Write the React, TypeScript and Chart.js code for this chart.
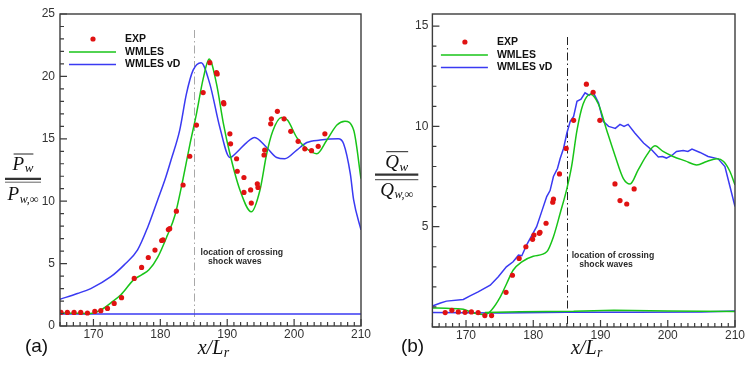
import React, { useEffect, useRef } from 'react';
import { Chart, registerables } from 'chart.js';

Chart.register(...registerables);

// ---------- data ----------
const X_MIN = 165;
const X_MAX = 210;
const xTickValues = [170, 180, 190, 200, 210];
const leftYTicks = [0, 5, 10, 15, 20, 25];
const rightYTicks = [5, 10, 15];
const legendLabels = ['EXP', 'WMLES', 'WMLES vD'];
const annotationLines = ['location of crossing', 'shock waves'];
const shockX = 185;

type P = [number, number];

const leftExp: P[] = [
  [165.15, 1.09], [166.1, 1.09], [167.1, 1.09], [168.1, 1.09], [169.1, 1.04], [170.2, 1.17],
  [171.1, 1.23], [172.1, 1.41], [173.1, 1.81], [174.2, 2.27], [176.1, 3.81], [177.2, 4.69],
  [178.2, 5.49], [179.2, 6.08], [180.2, 6.85], [180.4, 6.9], [181.2, 7.73], [181.4, 7.8],
  [182.4, 9.2], [183.4, 11.3], [184.4, 13.6], [185.4, 16.1], [186.4, 18.7], [187.4, 21.1],
  [188.4, 20.3], [188.5, 20.2], [189.45, 17.9], [189.5, 17.8], [190.4, 15.4], [190.5, 14.6],
  [191.4, 13.4], [191.5, 12.4], [192.5, 11.9], [192.5, 10.7], [193.5, 10.9], [193.6, 9.85],
  [194.5, 11.4], [194.6, 11.1], [195.5, 13.7], [195.6, 14.1], [196.5, 16.2], [196.6, 16.6],
  [197.5, 17.2], [198.5, 16.6], [199.5, 15.6], [200.6, 14.8], [201.6, 14.2], [202.6, 14.05],
  [203.6, 14.4], [204.6, 15.4],
];

const leftWmles: P[] = [
  [165, 1.05], [167, 1.03], [169.5, 1.0], [171, 1.25], [172.6, 1.85], [174.1, 2.5], [176, 3.7],
  [177.2, 4.1], [178.3, 4.5], [179.6, 5.5], [181, 7.2], [182.2, 8.9], [183.4, 11.8], [184.4, 14.5],
  [185.4, 17.0], [186.4, 19.8], [187.3, 21.4], [188.4, 19.4], [189.4, 16.3], [190.4, 13.8],
  [191.9, 10.9], [193.6, 9.15], [194.9, 10.9], [195.9, 13.8], [196.8, 15.6], [198.1, 16.7],
  [199.0, 16.5], [200.4, 15.1], [201.9, 14.2], [203.4, 13.8], [204.9, 14.9], [206.4, 16.1],
  [207.6, 16.4], [208.9, 15.7], [210, 11.8],
];

const leftVd: P[] = [
  [165, 2.14], [167.6, 2.6], [169.6, 3.0], [172.6, 3.95], [174.6, 4.9], [176.6, 6.1], [178.1, 7.9],
  [179.6, 10.1], [180.8, 11.9], [181.6, 13.3], [182.9, 15.7], [183.9, 18.6], [184.9, 20.5],
  [186.1, 21.1], [187.4, 19.4], [188.9, 15.9], [190.4, 13.5], [191.4, 13.9], [192.9, 14.7],
  [194.1, 15.1], [195.9, 14.3], [197.4, 13.5], [198.6, 13.4], [200.4, 14.1], [201.9, 14.7],
  [203.9, 14.9], [206.6, 15.0], [207.4, 14.6], [208.4, 12.2], [208.9, 10.1], [210, 7.7],
];

const leftVdBase: P[] = [[165, 0.96], [210, 0.96]];

const rightExp: P[] = [
  [166.9, 0.72], [167.9, 0.83], [168.85, 0.75], [169.85, 0.73], [170.8, 0.75], [171.8, 0.72],
  [172.8, 0.57], [173.8, 0.57], [175.95, 1.73], [176.9, 2.58], [177.9, 3.42], [178.9, 4.0],
  [179.9, 4.37], [180.1, 4.58], [180.9, 4.67], [181.0, 4.72], [181.9, 5.17], [182.9, 6.22],
  [183.0, 6.37], [183.9, 7.63], [184.9, 8.9], [186.0, 10.3], [187.9, 12.1], [188.9, 11.7],
  [189.9, 10.3], [192.15, 7.13], [192.9, 6.3], [193.9, 6.13], [195.0, 6.88],
];

const rightWmles: P[] = [
  [165, 0.95], [167, 0.93], [169.6, 0.88], [171.1, 0.7], [172.8, 0.62], [173.8, 0.85], [175.1, 1.5],
  [176.05, 2.17], [177.0, 2.83], [178.3, 3.25], [180.0, 3.53], [182.0, 3.75], [183.0, 4.5],
  [184.0, 5.67], [185.0, 6.9], [185.7, 8.0], [186.5, 9.8], [187.4, 11.1], [188.5, 11.6],
  [189.7, 11.1], [190.9, 9.83], [192.2, 8.5], [193.4, 7.4], [194.4, 7.13], [195.6, 7.83],
  [196.9, 8.58], [198.1, 9.03], [199.3, 8.75], [200.8, 8.5], [202.6, 8.28], [204.3, 8.08],
  [205.8, 8.25], [207.3, 8.38], [208.3, 8.25], [209.25, 7.75], [210, 7.08],
];

const rightVd: P[] = [
  [165, 1.05], [166.2, 1.2], [167.1, 1.29], [169.6, 1.37], [170.6, 1.55], [171.8, 1.75],
  [173.6, 2.08], [174.8, 2.5], [176.0, 3.0], [177.0, 3.25], [177.8, 3.58], [178.3, 3.55],
  [179.0, 4.08], [180.5, 5.0], [181.2, 5.7], [182.0, 6.5], [182.5, 6.8], [183.0, 7.5],
  [183.6, 7.9], [184.0, 8.4], [184.5, 8.9], [185.0, 9.67], [185.5, 10.25], [186.0, 10.5],
  [186.5, 11.25], [187.1, 11.35], [187.7, 11.67], [188.3, 11.55], [188.9, 11.7], [189.7, 11.17],
  [190.4, 10.25], [191.2, 10.0], [191.7, 9.95], [192.2, 9.9], [192.9, 10.1], [193.5, 10.0],
  [194.1, 10.1], [195.1, 9.67], [196.4, 9.17], [197.6, 8.83], [198.6, 8.47], [199.2, 8.5],
  [199.8, 8.42], [200.6, 8.55], [201.3, 8.75], [202.3, 8.8], [203.0, 8.75], [203.6, 8.87],
  [204.8, 8.7], [206.0, 8.5], [207.5, 8.38], [208.5, 8.0], [209.25, 7.0], [210, 6.0],
];

const rightVdBase: P[] = [[165, 0.72], [175, 0.7], [185, 0.73], [195, 0.74], [205, 0.75], [210, 0.8]];
const rightWmlesBase: P[] = [[172.8, 0.72], [178, 0.76], [186, 0.78], [192, 0.84], [200, 0.8], [210, 0.77]];

// ---------- styles ----------
const RED = '#e01212';
const GREEN = '#18c418';
const BLUE = '#3a3af2';
const TICK_FONT = 'Arial, "Liberation Sans", sans-serif';
const SERIF = '"Liberation Serif", "DejaVu Serif", serif';

const toXY = (arr: P[]) => arr.map(([x, y]) => ({ x, y }));

function drawMath(ctx: CanvasRenderingContext2D, main: string, sub: string, cx: number, base: number, mainSize: number, subSize: number) {
  const mf = `italic ${mainSize}px ${SERIF}`;
  const sf = `italic ${subSize}px ${SERIF}`;
  ctx.font = mf;
  const mw = ctx.measureText(main).width;
  ctx.font = sf;
  const sw = ctx.measureText(sub).width;
  const total = mw + 0.5 + sw;
  const x0 = cx - total / 2;
  ctx.textAlign = 'left';
  ctx.textBaseline = 'alphabetic';
  ctx.font = mf;
  ctx.fillText(main, x0, base);
  ctx.font = sf;
  ctx.fillText(sub, x0 + mw + 0.5, base + subSize * 0.22);
  return [x0, x0 + total];
}

type PanelCfg = {
  id: string;
  canvasLeft: number;
  width: number;
  yMax: number;
  yTicks: number[];
  yAxisWidth: number;
  xAxisHeight: number;
  padRight: number;
  yLabelPad: number;
  exp: P[];
  wmles: P[];
  vd: P[];
  vdBase: P[];
  wmlesBase: P[] | null;
  vdTension: boolean;
  shockColor: string;
  shockTop: number;
  legendRow0: number;
  legendDx: number;
  annotDx: number;
  annotDy: number;
  panelLabel: string;
  panelLabelX: number;
  frac: {
    letter: string; cx: number; overY: number; numBase: number;
    bar1Y: number; bar1W: number; bar2Y: number; bar2W: number; barX0: number; barX1: number; denBase: number;
  };
};

const panels: PanelCfg[] = [
  {
    id: 'a', canvasLeft: 0, width: 373, yMax: 25, yTicks: leftYTicks, yAxisWidth: 60, xAxisHeight: 41,
    padRight: 12, yLabelPad: 5, exp: leftExp, wmles: leftWmles, vd: leftVd, vdBase: leftVdBase, wmlesBase: null,
    vdTension: true, shockColor: '#a8a8a8', shockTop: 16, legendRow0: 25, legendDx: 0, annotDx: 6.7, annotDy: 239,
    panelLabel: '(a)', panelLabelX: 36.5,
    frac: { letter: 'P', cx: 23, overY: 154, numBase: 169.5, bar1Y: 178.8, bar1W: 2.2, bar2Y: 182.2, bar2W: 1, barX0: 5, barX1: 41, denBase: 200 },
  },
  {
    id: 'b', canvasLeft: 373, width: 374, yMax: 15.6, yTicks: rightYTicks, yAxisWidth: 59.4, xAxisHeight: 40,
    padRight: 12, yLabelPad: 4, exp: rightExp, wmles: rightWmles, vd: rightVd, vdBase: rightVdBase, wmlesBase: rightWmlesBase,
    vdTension: false, shockColor: '#222', shockTop: 23, legendRow0: 28, legendDx: -0.5, annotDx: 4.8, annotDy: 241.5,
    panelLabel: '(b)', panelLabelX: 39.5,
    frac: { letter: 'Q', cx: 23.7, overY: 151.7, numBase: 168, bar1Y: 174.6, bar1W: 2.4, bar2Y: 179.6, bar2W: 1.2, barX0: 2, barX1: 45.3, denBase: 195.5 },
  },
];

function makeDecor(cfg: PanelCfg) {
  return {
    id: 'decor_' + cfg.id,
    beforeDatasetsDraw(chart: any) {
      const { ctx, chartArea: a, scales } = chart;
      const sx = Math.round(scales.x.getPixelForValue(shockX)) + 0.5;
      ctx.save();
      ctx.strokeStyle = cfg.shockColor;
      ctx.lineWidth = 1;
      ctx.setLineDash([8, 3, 1.5, 3]);
      ctx.beginPath();
      ctx.moveTo(sx, a.top + cfg.shockTop);
      ctx.lineTo(sx, a.bottom);
      ctx.stroke();
      ctx.restore();
    },
    afterDraw(chart: any) {
      const { ctx, chartArea: a, scales } = chart;
      const xs = scales.x;
      const ys = scales.y;
      ctx.save();
      // frame
      ctx.strokeStyle = '#3c3c3c';
      ctx.lineWidth = 1.4;
      ctx.strokeRect(a.left, a.top, a.right - a.left, a.bottom - a.top);
      // inward ticks
      ctx.lineWidth = 1.2;
      ctx.beginPath();
      for (let v = Math.ceil(X_MIN); v <= X_MAX; v += 1) {
        const px = xs.getPixelForValue(v);
        const len = v % 10 === 0 ? 7 : 4;
        ctx.moveTo(px, a.bottom);
        ctx.lineTo(px, a.bottom - len);
      }
      for (let v = 0; v <= cfg.yMax; v += 1) {
        const py = ys.getPixelForValue(v);
        const len = v % 5 === 0 ? 7 : 4;
        ctx.moveTo(a.left, py);
        ctx.lineTo(a.left + len, py);
      }
      ctx.stroke();

      // legend
      const r0 = a.top + cfg.legendRow0;
      const rows = [r0, r0 + 13, r0 + 25.5];
      const lx0 = a.left + 9 + cfg.legendDx;
      const lx1 = a.left + 56 + cfg.legendDx;
      const dotX = a.left + 33 + cfg.legendDx;
      const textX = a.left + 65 + cfg.legendDx;
      ctx.fillStyle = RED;
      ctx.beginPath();
      ctx.arc(dotX, rows[0], 2.6, 0, Math.PI * 2);
      ctx.fill();
      ctx.lineWidth = 1.6;
      ctx.strokeStyle = GREEN;
      ctx.beginPath();
      ctx.moveTo(lx0, rows[1]);
      ctx.lineTo(lx1, rows[1]);
      ctx.stroke();
      ctx.strokeStyle = BLUE;
      ctx.beginPath();
      ctx.moveTo(lx0, rows[2]);
      ctx.lineTo(lx1, rows[2]);
      ctx.stroke();
      ctx.fillStyle = '#111';
      ctx.font = `bold 10.5px ${TICK_FONT}`;
      ctx.textAlign = 'left';
      ctx.textBaseline = 'middle';
      legendLabels.forEach((t, i) => ctx.fillText(t, textX, rows[i]));

      // annotation
      const sx = xs.getPixelForValue(shockX);
      ctx.fillStyle = '#2a2a2a';
      ctx.font = `bold 8.7px ${TICK_FONT}`;
      ctx.fillText(annotationLines[0], sx + cfg.annotDx, a.top + cfg.annotDy);
      ctx.fillText(annotationLines[1], sx + cfg.annotDx + 7.5, a.top + cfg.annotDy + 8.7);

      // panel label
      ctx.fillStyle = '#111';
      ctx.font = `19px ${TICK_FONT}`;
      ctx.textAlign = 'center';
      ctx.fillText(cfg.panelLabel, cfg.panelLabelX, 347);

      // x-axis title
      ctx.fillStyle = '#111';
      drawMath(ctx, 'x/L', 'r', (a.left + a.right) / 2 + 3, 354, 20, 14);

      // y-axis title (fraction)
      const f = cfg.frac;
      const [n0, n1] = drawMath(ctx, f.letter, 'w', f.cx, f.numBase, 19, 13);
      ctx.strokeStyle = '#222';
      ctx.lineWidth = 1;
      ctx.beginPath();
      ctx.moveTo(n0 + 1, f.overY);
      ctx.lineTo(n1, f.overY);
      ctx.stroke();
      ctx.lineWidth = f.bar1W;
      ctx.strokeStyle = '#333';
      ctx.beginPath();
      ctx.moveTo(f.barX0, f.bar1Y);
      ctx.lineTo(f.barX1, f.bar1Y);
      ctx.stroke();
      ctx.lineWidth = f.bar2W;
      ctx.strokeStyle = '#666';
      ctx.beginPath();
      ctx.moveTo(f.barX0, f.bar2Y);
      ctx.lineTo(f.barX1, f.bar2Y);
      ctx.stroke();
      drawMath(ctx, f.letter, 'w,∞', f.cx, f.denBase, 19, 12);
      ctx.restore();
    },
  };
}

function buildConfig(cfg: PanelCfg): any {
  const datasets: any[] = [
    {
      type: 'scatter', label: 'EXP', data: toXY(cfg.exp), showLine: false,
      pointRadius: 2.6, pointBackgroundColor: RED, pointBorderWidth: 0, pointBorderColor: RED,
    },
    {
      type: 'line', label: 'WMLES', data: toXY(cfg.wmles), borderColor: GREEN, borderWidth: 1.5,
      pointRadius: 0, cubicInterpolationMode: 'monotone', fill: false,
    },
  ];
  if (cfg.wmlesBase) {
    datasets.push({
      type: 'line', label: 'WMLES base', data: toXY(cfg.wmlesBase), borderColor: GREEN, borderWidth: 1.5,
      pointRadius: 0, tension: 0, fill: false,
    });
  }
  datasets.push(
    {
      type: 'line', label: 'WMLES vD', data: toXY(cfg.vd), borderColor: BLUE, borderWidth: 1.5,
      pointRadius: 0, fill: false,
      ...(cfg.vdTension ? { cubicInterpolationMode: 'monotone' } : { tension: 0 }),
    },
    {
      type: 'line', label: 'WMLES vD base', data: toXY(cfg.vdBase), borderColor: BLUE, borderWidth: 1.5,
      pointRadius: 0, tension: 0, fill: false,
    },
  );

  return {
    data: { datasets },
    options: {
      responsive: false,
      animation: false,
      devicePixelRatio: 1,
      layout: { padding: { left: 0, top: 14, right: cfg.padRight, bottom: 0 } },
      plugins: { legend: { display: false }, tooltip: { enabled: false } },
      scales: {
        x: {
          type: 'linear', min: X_MIN, max: X_MAX,
          grid: { display: false, drawTicks: false },
          border: { display: false },
          ticks: {
            font: { family: TICK_FONT, size: 12 }, color: '#333', padding: 1,
            autoSkip: false, maxRotation: 0,
          },
          afterBuildTicks: (s: any) => { s.ticks = xTickValues.map((v) => ({ value: v })); },
          afterFit: (s: any) => { s.height = cfg.xAxisHeight; s.paddingLeft = 0; s.paddingRight = 0; },
        },
        y: {
          type: 'linear', min: 0, max: cfg.yMax,
          grid: { display: false, drawTicks: false },
          border: { display: false },
          ticks: {
            font: { family: TICK_FONT, size: 12 }, color: '#333', padding: cfg.yLabelPad,
            autoSkip: false,
          },
          afterBuildTicks: (s: any) => { s.ticks = cfg.yTicks.map((v) => ({ value: v })); },
          afterFit: (s: any) => { s.width = cfg.yAxisWidth; s.paddingTop = 0; s.paddingBottom = 0; },
        },
      },
    },
    plugins: [makeDecor(cfg)],
  };
}

function Panel({ cfg }: { cfg: PanelCfg }) {
  const ref = useRef<HTMLCanvasElement>(null);
  useEffect(() => {
    if (!ref.current) return;
    const chart = new Chart(ref.current, buildConfig(cfg));
    return () => chart.destroy();
  }, [cfg]);
  return (
    <canvas
      ref={ref}
      width={cfg.width}
      height={367}
      style={{ position: 'absolute', left: cfg.canvasLeft, top: 0, width: cfg.width, height: 367, display: 'block' }}
    />
  );
}

export default function App() {
  return (
    <div style={{ position: 'fixed', left: 0, top: 0, width: 747, height: 367, background: '#fff', overflow: 'hidden' }}>
      {panels.map((p) => (
        <Panel key={p.id} cfg={p} />
      ))}
    </div>
  );
}
